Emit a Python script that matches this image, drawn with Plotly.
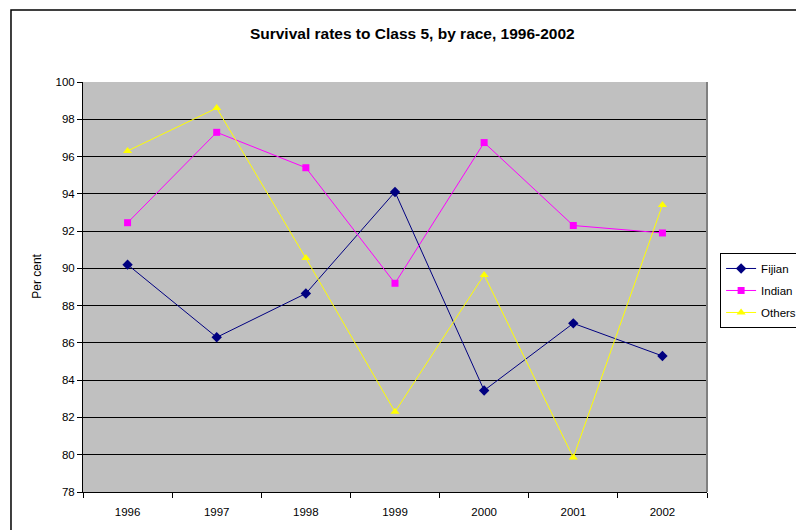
import plotly.graph_objects as go


YEARS = ["1996", "1997", "1998", "1999", "2000", "2001", "2002"]
FIJIAN = [90.2, 86.3, 88.65, 94.1, 83.45, 87.05, 85.3]
INDIAN = [92.45, 97.3, 95.4, 89.2, 96.75, 92.3, 91.9]
OTHERS = [96.3, 98.6, 90.55, 82.3, 89.65, 79.85, 93.4]

FONT = "Liberation Sans, Arial, sans-serif"

# the page has an 8px body margin by default; drop it so the figure fills the window
POST_SCRIPT = (
    "document.documentElement.style.margin='0';"
    "document.documentElement.style.overflow='hidden';"
    "document.body.style.margin='0';"
    "document.body.style.overflow='hidden';"
    "var gd=document.getElementById('{plot_id}');"
    "Plotly.relayout(gd,{width:796,height:530});"
)


def build_figure() -> go.Figure:
    series = [
        ("Fijian", FIJIAN, "#000080", "diamond", 8),
        ("Indian", INDIAN, "#FF00FF", "square", 7),
        ("Others", OTHERS, "#FFFF00", "triangle-up", 8),
    ]

    figure = go.Figure()
    for name, values, color, symbol, size in series:
        figure.add_trace(
            go.Scatter(
                x=YEARS,
                y=values,
                name=name,
                legendgroup=name,
                mode="lines+markers",
                line={"color": color, "width": 1},
                marker={"symbol": symbol, "size": size, "color": color},
                cliponaxis=False,
            )
        )

    figure.update_layout(
        width=796,
        height=530,
        autosize=False,
        paper_bgcolor="white",
        plot_bgcolor="#C0C0C0",
        font={"family": FONT, "size": 11, "color": "black"},
        margin={"l": 83, "r": 89, "t": 82, "b": 38, "pad": 0, "autoexpand": False},
        title={
            "text": "<b>Survival rates to Class 5, by race, 1996-2002</b>",
            "x": 0.518,
            "xanchor": "center",
            "y": 0.937,
            "yanchor": "middle",
            "font": {"size": 15.5, "family": FONT},
        },
        xaxis={
            "type": "category",
            "range": [-0.5, len(YEARS) - 0.5],
            "tickson": "boundaries",
            "ticks": "outside",
            "ticklen": 5,
            "tickcolor": "black",
            "ticklabelstandoff": 9,
            "showline": True,
            "linecolor": "black",
            "linewidth": 1,
            "showgrid": False,
            "automargin": False,
            "tickfont": {"size": 11.5},
        },
        yaxis={
            "range": [78, 100],
            "dtick": 2,
            "ticks": "outside",
            "ticklen": 5,
            "tickcolor": "black",
            "showline": True,
            "linecolor": "black",
            "linewidth": 1,
            "showgrid": True,
            "gridcolor": "black",
            "gridwidth": 1,
            "zeroline": False,
            "automargin": False,
            "tickfont": {"size": 11.5},
        },
        legend={
            "x": 1.021,
            "xanchor": "left",
            "y": 0.583,
            "yanchor": "top",
            "bgcolor": "white",
            "bordercolor": "black",
            "borderwidth": 1,
            "font": {"size": 11.5},
            "tracegroupgap": 3,
        },
        annotations=[
            {
                "text": "Per cent",
                "xref": "paper",
                "yref": "paper",
                "x": -0.074,
                "y": 0.527,
                "xanchor": "center",
                "yanchor": "middle",
                "textangle": -90,
                "showarrow": False,
                "font": {"size": 12},
            }
        ],
        shapes=[
            {
                "type": "line",
                "xref": "paper",
                "yref": "paper",
                "x0": 1,
                "x1": 1,
                "y0": 0,
                "y1": 1,
                "line": {"color": "#808080", "width": 2},
            },
            {
                "type": "rect",
                "xref": "paper",
                "yref": "paper",
                "x0": -0.1154,
                "x1": 1.3,
                "y0": -0.2,
                "y1": 1.1756,
                "line": {"color": "black", "width": 1.5},
                "layer": "below",
            },
        ],
    )

    return figure


if __name__ == "__main__":
    fig = build_figure()
    fig.write_html(
        "out.html",
        post_script=POST_SCRIPT,
        config={"displayModeBar": False, "responsive": False},
    )
